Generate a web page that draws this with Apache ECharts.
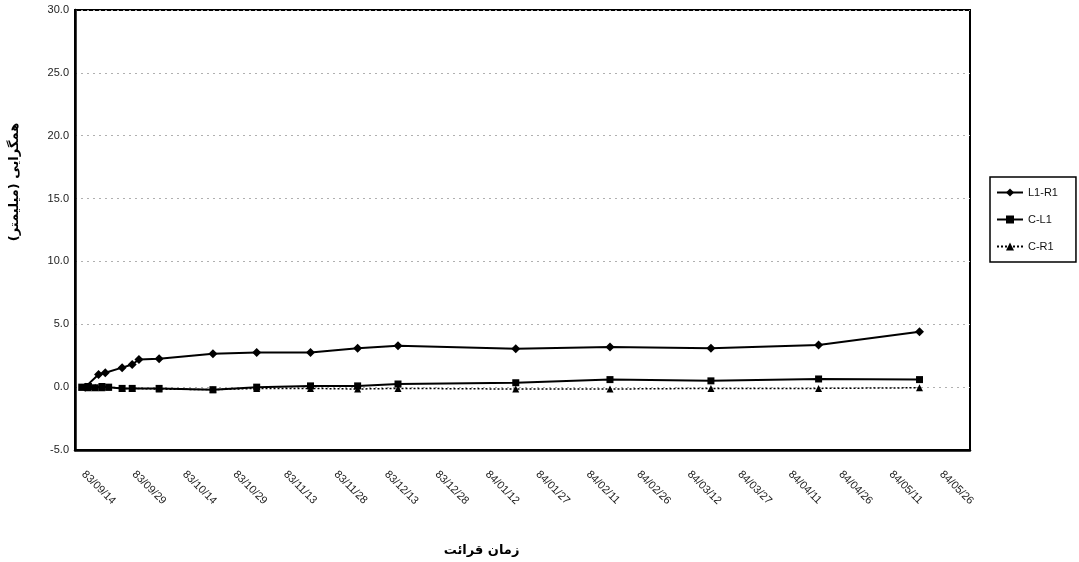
<!DOCTYPE html>
<html>
<head>
<meta charset="utf-8">
<script src="https://cdn.jsdelivr.net/npm/echarts@6/dist/echarts.min.js"></script>
<style>html,body{margin:0;padding:0;background:#fff}#c{width:1079px;height:562px}</style>
</head>
<body>
<div id="c"></div>
<script>
// Tick labels (Solar Hijri dates, every 15 days)
const xTickLabels = ['83/09/14','83/09/29','83/10/14','83/10/29','83/11/13','83/11/28','83/12/13','83/12/28','84/01/12','84/01/27','84/02/11','84/02/26','84/03/12','84/03/27','84/04/11','84/04/26','84/05/11','84/05/26'];
const tickStepDays = 15;

// Series: day offset from 83/09/14, value (mm)
const l1r1Days   = [3, 7, 9, 14, 17, 19, 25, 41, 54, 70, 84, 96, 131, 159, 189, 221, 251];
const l1r1Values = [0, 1.0, 1.15, 1.55, 1.8, 2.2, 2.25, 2.65, 2.75, 2.75, 3.1, 3.3, 3.05, 3.2, 3.1, 3.35, 4.4];

const cl1Days   = [2, 4, 6, 8, 10, 14, 17, 25, 41, 54, 70, 84, 96, 131, 159, 189, 221, 251];
const cl1Values = [0, 0.05, -0.05, 0.05, 0, -0.1, -0.1, -0.1, -0.2, 0, 0.1, 0.1, 0.25, 0.35, 0.6, 0.5, 0.65, 0.6];

const cr1Days   = [2, 4, 6, 8, 10, 14, 17, 25, 41, 54, 70, 84, 96, 131, 159, 189, 221, 251];
const cr1Values = [0, -0.05, 0, -0.05, 0, -0.1, -0.1, -0.15, -0.2, -0.1, -0.1, -0.15, -0.1, -0.15, -0.15, -0.1, -0.1, -0.05];

const seriesNames = ['L1-R1', 'C-L1', 'C-R1'];
const yAxisTitle = 'همگرایی (میلیمتر)\u200F';
const xAxisTitle = 'زمان قرائت';

const pair = (d, v) => d.map((x, i) => [x, v[i]]);
const tickValues = xTickLabels.map((_, i) => i * tickStepDays);

const chart = echarts.init(document.getElementById('c'), null, {renderer: 'canvas'});
const lab = {fontFamily: 'Liberation Sans, Arial, sans-serif', fontSize: 11, color: '#222'};

chart.setOption({
  animation: false,
  backgroundColor: '#fff',
  grid: {left: 72, right: 109, top: 10, bottom: 110, show: true, borderColor: '#000', borderWidth: 2},
  legend: {
    orient: 'vertical', left: 990, top: 177,
    data: seriesNames,
    itemWidth: 26, itemHeight: 10, itemGap: 16,
    padding: [10, 18, 10, 6],
    borderColor: '#000', borderWidth: 1.5,
    textStyle: {fontFamily: 'Liberation Sans, Arial, sans-serif', fontSize: 11, color: '#111'}
  },
  xAxis: {
    type: 'value', min: 0, max: 266,
    name: xAxisTitle, nameLocation: 'middle', nameGap: 94,
    nameTextStyle: {fontFamily: 'DejaVu Sans', fontWeight: 'bold', fontSize: 13, color: '#000', padding: [0, 82, 0, 0]},
    axisLine: {onZero: false, lineStyle: {color: '#000', width: 2.5}},
    axisTick: {show: false},
    splitLine: {show: false},
    axisLabel: {
      customValues: tickValues,
      rotate: -45, margin: 14, padding: [0, 0, 0, 12],
      ...lab,
      formatter: v => xTickLabels[Math.round(v / tickStepDays)] || ''
    }
  },
  yAxis: {
    type: 'value', min: -5, max: 30, interval: 5,
    name: yAxisTitle, nameLocation: 'middle', nameGap: 54,
    nameTextStyle: {fontFamily: 'DejaVu Sans', fontWeight: 'bold', fontSize: 13, color: '#000', padding: [0, 0, 0, 96]},
    axisLine: {show: true, onZero: false, lineStyle: {color: '#000', width: 2.5}},
    axisTick: {show: false},
    splitLine: {show: true, lineStyle: {color: '#b0b0b0', type: [2, 4], width: 1}},
    axisLabel: {...lab, margin: 6, formatter: v => v.toFixed(1)}
  },
  series: [
    {
      name: 'C-R1', type: 'line', data: pair(cr1Days, cr1Values),
      symbol: 'triangle', symbolSize: 7, z: 2,
      lineStyle: {color: '#000', width: 1.5, type: [2, 2]},
      itemStyle: {color: '#000'}
    },
    {
      name: 'C-L1', type: 'line', data: pair(cl1Days, cl1Values),
      symbol: 'rect', symbolSize: 7, z: 3,
      lineStyle: {color: '#000', width: 2},
      itemStyle: {color: '#000'}
    },
    {
      name: 'L1-R1', type: 'line', data: pair(l1r1Days, l1r1Values),
      symbol: 'diamond', symbolSize: 9, z: 4,
      lineStyle: {color: '#000', width: 2},
      itemStyle: {color: '#000'}
    }
  ]
});
</script>
</body>
</html>
